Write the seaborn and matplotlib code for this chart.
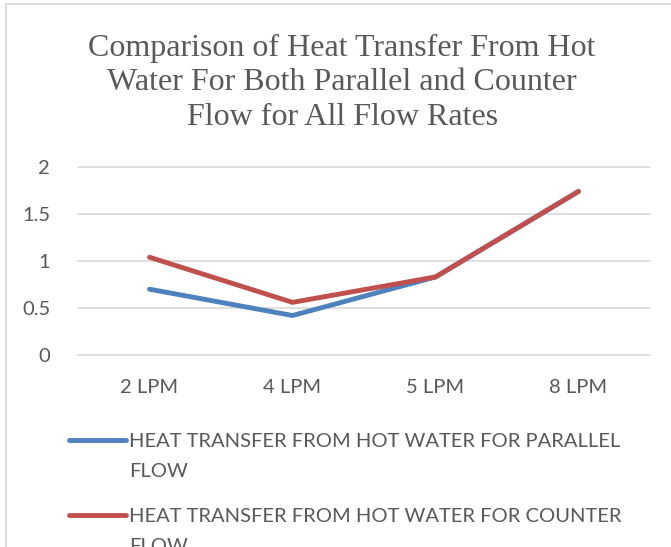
import pandas as pd
import matplotlib.pyplot as plt
import matplotlib.patches as mpatches
import seaborn as sns

# data
flow_rates = ['2 LPM', '4 LPM', '5 LPM', '8 LPM']
parallel_q = [0.70, 0.42, 0.83, 1.74]
counter_q = [1.04, 0.56, 0.83, 1.74]
series_names = ['HEAT TRANSFER FROM HOT WATER FOR PARALLEL',
                'HEAT TRANSFER FROM HOT WATER FOR COUNTER']
name_wrap = 'FLOW'  # second line of each legend entry
y_ticks = [0, 0.5, 1, 1.5, 2]
y_tick_labels = ['0', '0.5', '1', '1.5', '2']
title = 'Comparison of Heat Transfer From Hot\nWater For Both Parallel and Counter\nFlow for All Flow Rates'

df = pd.DataFrame({
    'Flow rate': flow_rates * 2,
    'Q': parallel_q + counter_q,
    'Series': [series_names[0]] * 4 + [series_names[1]] * 4,
})

sns.set_style('white')
plt.rcParams['font.family'] = ['Lato', 'DejaVu Sans']

W, H = 671, 547
grey = '#595959'
fs = 14.5
fig = plt.figure(figsize=(W / 100, H / 100), dpi=100)
ax = fig.add_axes([78 / W, 192 / H, 572 / W, 188 / H])

sns.lineplot(data=df, x='Flow rate', y='Q', hue='Series', sort=False,
             palette=['#4F81BD', '#C0504D'], linewidth=3.5, ax=ax,
             solid_capstyle='round', solid_joinstyle='round')

ax.set_xlim(-0.5, 3.5)
ax.set_ylim(0, 2)
ax.set_yticks(y_ticks)
ax.set_yticklabels(y_tick_labels)
ax.yaxis.grid(True, color='#d9d9d9', linewidth=1.2, clip_on=False)
ax.set_axisbelow(True)
for s in ax.spines.values():
    s.set_visible(False)
ax.tick_params(axis='both', length=0, labelsize=fs, colors=grey)
ax.tick_params(axis='y', pad=20)
ax.tick_params(axis='x', pad=17)
ax.set_xlabel('')
ax.set_ylabel('')

# legend below the plot, cut off at the bottom like the reference
ax.get_legend().remove()
handles, labels = ax.get_legend_handles_labels()
leg = fig.legend(handles, labels, loc='upper left',
                 bbox_to_anchor=(69 / W, 1 - 433 / H),
                 frameon=False, fontsize=fs, handlelength=2.85,
                 handletextpad=0.15, labelspacing=2.85,
                 borderpad=0, borderaxespad=0, labelcolor=grey)

fig.text(0.51, 1 - 34 / H, title, ha='center', va='top',
         family='Liberation Serif', fontsize=23, color=grey,
         linespacing=1.24)

# wrapped second line under each legend label
fig.canvas.draw()
for t in leg.get_texts():
    x, y = t.get_transform().transform(t.get_position())
    fig.text(x / W, (y - 30) / H, name_wrap, ha='left', va='baseline',
             fontsize=fs, color=grey)

# chart area border (only left and top visible)
fig.patches.append(mpatches.Rectangle((6 / W, -0.1), 1.2, 1.1 - 4 / H,
                                      transform=fig.transFigure, fill=False,
                                      edgecolor='#d9d9d9', linewidth=1.3))

fig.savefig('out.png', dpi=100)
